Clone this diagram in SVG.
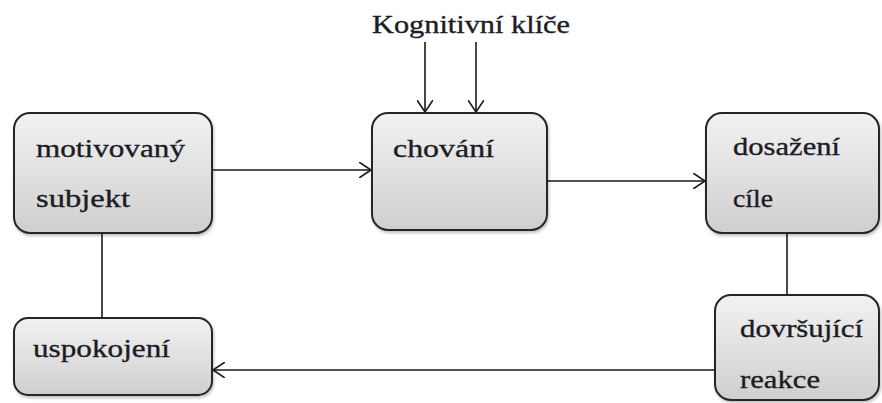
<svg xmlns="http://www.w3.org/2000/svg" width="882" height="403" viewBox="0 0 882 403">
  <style>
    .box { fill: url(#boxFill); stroke: #262626; stroke-width: 2; filter: url(#shadow); }
    .lbl { font-family: "Liberation Serif", "Times New Roman", serif; font-size: 26px; fill: #1c1c24; stroke: #1c1c24; stroke-width: 0.35; }
    .conn { stroke: #1a1a1a; stroke-width: 1.6; fill: none; }
  </style>
  <defs>
    <linearGradient id="boxFill" x1="0" y1="0" x2="0" y2="1">
      <stop offset="0" stop-color="#f2f2f2"/>
      <stop offset="1" stop-color="#cfcfcf"/>
    </linearGradient>
    <filter id="shadow" x="-10%" y="-10%" width="120%" height="120%">
      <feDropShadow dx="1" dy="2" stdDeviation="1.5" flood-color="#000" flood-opacity="0.25"/>
    </filter>
    <marker id="arrow" viewBox="0 0 12 16" refX="12" refY="8" markerWidth="12" markerHeight="16" markerUnits="userSpaceOnUse" orient="auto">
      <path d="M0,0 L12,8 L0,16" fill="none" stroke="#1a1a1a" stroke-width="1.6"/>
    </marker>
  </defs>

  <!-- connectors -->
  <g id="connectors">
    <line class="conn" x1="212" y1="170" x2="371" y2="170" marker-end="url(#arrow)"/>
    <line class="conn" x1="547" y1="181" x2="705" y2="181" marker-end="url(#arrow)"/>
    <line class="conn" x1="425" y1="42" x2="425" y2="112" marker-end="url(#arrow)"/>
    <line class="conn" x1="476" y1="42" x2="476" y2="112" marker-end="url(#arrow)"/>
    <line class="conn" x1="787" y1="233" x2="787" y2="295"/>
    <line class="conn" x1="715" y1="370" x2="213" y2="370" marker-end="url(#arrow)"/>
    <line class="conn" x1="102" y1="233" x2="102" y2="318"/>
  </g>

  <text class="lbl" x="372" y="33" textLength="198" lengthAdjust="spacingAndGlyphs">Kognitivní klíče</text>

  <g id="motivovany-subjekt">
    <rect class="box" x="14" y="113" width="198" height="120" rx="16"/>
    <text class="lbl" x="36" y="157" textLength="149" lengthAdjust="spacingAndGlyphs">motivovaný</text>
    <text class="lbl" x="36" y="207" textLength="94" lengthAdjust="spacingAndGlyphs">subjekt</text>
  </g>

  <g id="chovani">
    <rect class="box" x="372" y="113" width="175" height="117" rx="16"/>
    <text class="lbl" x="393" y="157" textLength="101" lengthAdjust="spacingAndGlyphs">chování</text>
  </g>

  <g id="dosazeni-cile">
    <rect class="box" x="706" y="113" width="173" height="120" rx="16"/>
    <text class="lbl" x="733" y="155" textLength="107" lengthAdjust="spacingAndGlyphs">dosažení</text>
    <text class="lbl" x="733" y="207" textLength="40" lengthAdjust="spacingAndGlyphs">cíle</text>
  </g>

  <g id="uspokojeni">
    <rect class="box" x="14" y="318" width="198" height="77" rx="14"/>
    <text class="lbl" x="33" y="357" textLength="137" lengthAdjust="spacingAndGlyphs">uspokojení</text>
  </g>

  <g id="dovrsujici-reakce">
    <rect class="box" x="715" y="295" width="164" height="105" rx="16"/>
    <text class="lbl" x="740" y="337" textLength="123" lengthAdjust="spacingAndGlyphs">dovršující</text>
    <text class="lbl" x="740" y="388" textLength="80" lengthAdjust="spacingAndGlyphs">reakce</text>
  </g>
</svg>
